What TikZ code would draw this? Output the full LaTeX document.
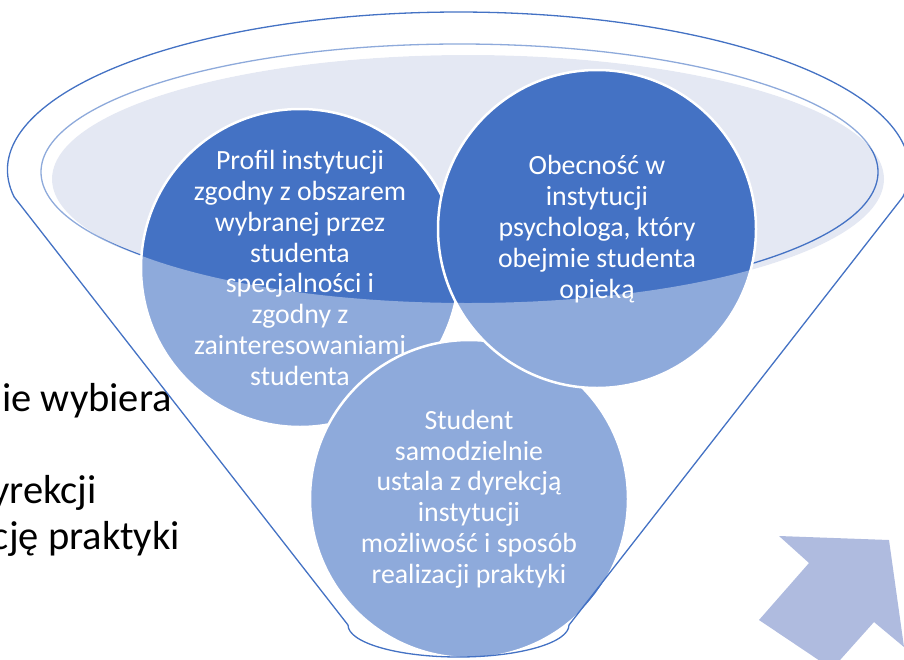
\documentclass[tikz,border=0pt]{standalone}
\usepackage{fontspec}
\setmainfont{Carlito}
\usetikzlibrary{positioning}
\definecolor{funnelBlue}{HTML}{4472C4}
\definecolor{rimFill}{HTML}{E4E8F3}
\definecolor{arrowFill}{HTML}{AFBBDF}
\tikzset{
    bubble/.style={circle, fill=funnelBlue, draw=white, line width=2.5pt,
        minimum size=318pt, inner sep=0pt},
    bubbleText/.style={text=white, align=center, inner sep=0pt,
        font=\fontsize{27.8}{30.8}\selectfont},
    sideText/.style={anchor=base east, inner sep=0pt,
        font=\fontsize{40.5}{44}\selectfont}
}
\newcommand{\funnelOutline}{(14.1,-196.9)
    arc[start angle=189.8, end angle=-9.8, x radius=451, y radius=158]
    -- (569,-625)
    arc[start angle=0, end angle=-180, x radius=110.5, y radius=32]
    -- cycle}

\begin{document}
\begin{tikzpicture}[x=1pt,y=1pt]
    \useasboundingbox (0,0) rectangle (904,-659);
    \clip (0,0) rectangle (904,-659);
    % text behind the funnel
    \node[sideText] (wybiera) at (172,-411) {ie wybiera};
    \node[sideText] (dyrekcji) at (97,-503) {yrekcji};
    \node[sideText] (praktyki) at (180,-549) {cję praktyki};
    % rim of the funnel
    \fill[rimFill] (468,-179) ellipse [x radius=416, y radius=124];
    \draw[funnelBlue, line width=1.3pt] (459.5,-172) ellipse [x radius=418.5, y radius=128];
    % bubbles
    \node[bubble] (profil) at (300,-268) {};
    \node[bubbleText] (profilText) at (profil) {Profil instytucji\\zgodny z obszarem\\wybranej przez\\studenta\\specjalności i\\zgodny z\\zainteresowaniami\\studenta};
    \node[bubble] (student) at (469,-499) {};
    \node[bubbleText] (studentText) at (student) {Student\\samodzielnie\\ustala z dyrekcją\\instytucji\\możliwość i sposób\\realizacji praktyki};
    \node[bubble] (obecnosc) at (597,-229) {};
    \node[bubbleText] (obecnoscText) at (obecnosc) {Obecność w\\instytucji\\psychologa, który\\obejmie studenta\\opieką};
    % body of the funnel
    \fill[white, fill opacity=0.4, even odd rule] \funnelOutline
        (468,-179) ellipse [x radius=416, y radius=124];
    \draw[funnelBlue, line width=1.3pt] \funnelOutline;
    % arrow
    \fill[arrowFill] (779,-536) -- (889,-540) -- (904,-647) -- (874,-622)
        -- (832,-669) -- (759,-620) -- (809,-563) -- cycle;
\end{tikzpicture}
\end{document}
